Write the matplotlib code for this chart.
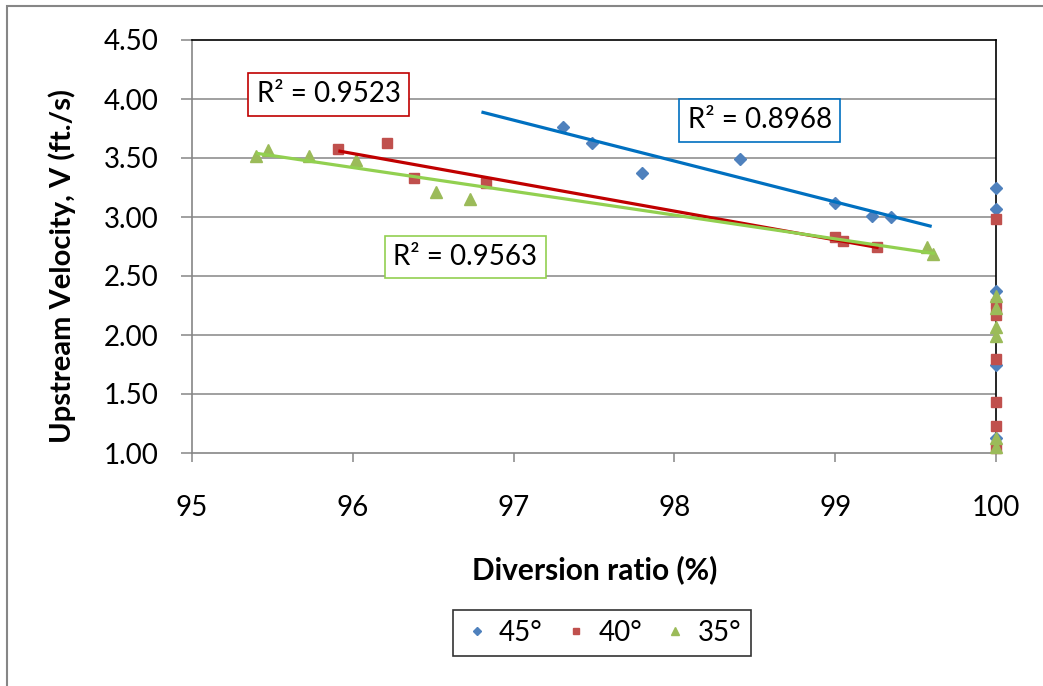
import numpy as np
import matplotlib.pyplot as plt
from matplotlib.patches import Rectangle

plt.rcParams['font.family'] = ['Lato', 'DejaVu Sans']

# data
x45 = [97.31, 97.49, 97.80, 98.41, 99.00, 99.23, 99.35, 100, 100, 100, 100, 100]
v45 = [3.76, 3.63, 3.37, 3.49, 3.12, 3.01, 3.00, 3.25, 3.07, 2.37, 1.75, 1.13]

x40 = [95.91, 96.21, 96.38, 96.83, 99.00, 99.05, 99.26, 100, 100, 100, 100, 100, 100, 100]
v40 = [3.58, 3.63, 3.33, 3.29, 2.83, 2.80, 2.75, 2.98, 2.26, 2.17, 1.80, 1.43, 1.23, 1.04]

x35 = [95.40, 95.47, 95.73, 96.02, 96.52, 96.73, 99.57, 99.61, 100, 100, 100, 100, 100, 100]
v35 = [3.52, 3.57, 3.52, 3.48, 3.21, 3.15, 2.75, 2.69, 2.33, 2.23, 2.07, 1.99, 1.13, 1.05]

# trend line ends
trend45_x = [96.80, 99.60]
trend45_y = [3.89, 2.92]
trend40_x = [95.91, 99.27]
trend40_y = [3.56, 2.74]
trend35_x = [95.40, 99.62]
trend35_y = [3.54, 2.69]

r2_labels = ['R² = 0.8968', 'R² = 0.9523', 'R² = 0.9563']
r2_pos = [(98.53, 3.82), (95.85, 4.04), (96.70, 2.66)]
legend_labels = ['45°', '40°', '35°']

xticks = [95, 96, 97, 98, 99, 100]
yticks = [1.0, 1.5, 2.0, 2.5, 3.0, 3.5, 4.0, 4.5]

W, H = 1043, 686
fig = plt.figure(figsize=(W / 100, H / 100), dpi=100)
ax = fig.add_axes([192 / W, 1 - 453 / H, (996 - 192) / W, (453 - 40) / H])

grey = '#868686'
for yv in yticks[1:-1]:
    ax.axhline(yv, color=grey, lw=1.1, zorder=1)

m45, = ax.plot(x45, v45, ls='none', marker='D', ms=6, color='#4F81BD', clip_on=False, zorder=3, label=legend_labels[0])
m40, = ax.plot(x40, v40, ls='none', marker='s', ms=6.5, color='#C0504D', clip_on=False, zorder=3, label=legend_labels[1])
m35, = ax.plot(x35, v35, ls='none', marker='^', ms=8, color='#9BBB59', clip_on=False, zorder=3, label=legend_labels[2])

ax.plot(trend45_x, trend45_y, color='#0070C0', lw=2.3, zorder=4, solid_capstyle='butt')
ax.plot(trend40_x, trend40_y, color='#C00000', lw=2.3, zorder=4, solid_capstyle='butt')
ax.plot(trend35_x, trend35_y, color='#92D050', lw=2.3, zorder=4, solid_capstyle='butt')

box_colors = ['#0070C0', '#C00000', '#92D050']
for lab, (px, py), c in zip(r2_labels, r2_pos, box_colors):
    ax.text(px, py, lab, fontsize=20, ha='center', va='center', zorder=5,
            bbox=dict(boxstyle='square,pad=0.3', fc='white', ec=c, lw=1.2))

ax.set_xlim(95, 100)
ax.set_ylim(1.0, 4.5)
ax.set_xticks(xticks)
ax.set_yticks(yticks)
ax.set_yticklabels(['%.2f' % t for t in yticks])
ax.tick_params(axis='y', direction='out', length=8, width=1.1, color=grey, pad=16, labelsize=20)
ax.tick_params(axis='x', direction='out', length=6.5, width=1.1, color=grey, pad=24, labelsize=20)

ax.spines['left'].set_color(grey)
ax.spines['bottom'].set_color(grey)
ax.spines['top'].set_color('black')
ax.spines['right'].set_color('black')
for s in ax.spines.values():
    s.set_linewidth(1.2)

fig.text(595 / W, 1 - 570 / H, 'Diversion ratio (%)', fontsize=21.5, fontweight='bold', ha='center', va='center')
fig.text(62 / W, 1 - 266 / H, 'Upstream Velocity, V (ft./s)', fontsize=21, fontweight='bold',
         ha='center', va='center', rotation=90)

leg = fig.legend(handles=[m45, m40, m35], loc='center', bbox_to_anchor=(602 / W, 1 - 633 / H),
                 ncol=3, fontsize=20, frameon=True, fancybox=False, markerscale=0.7,
                 handlelength=1.0, handletextpad=0.3, columnspacing=0.7, borderpad=0.35)
leg.get_frame().set_edgecolor('black')
leg.get_frame().set_linewidth(1.2)

# outer chart border (right and bottom edges fall outside the image)
fig.patches.append(Rectangle((7 / W, -0.05), 1.1, 1 - 6 / H + 0.05, transform=fig.transFigure,
                             fill=False, ec=grey, lw=1.5))

fig.savefig('out.png', dpi=100)
